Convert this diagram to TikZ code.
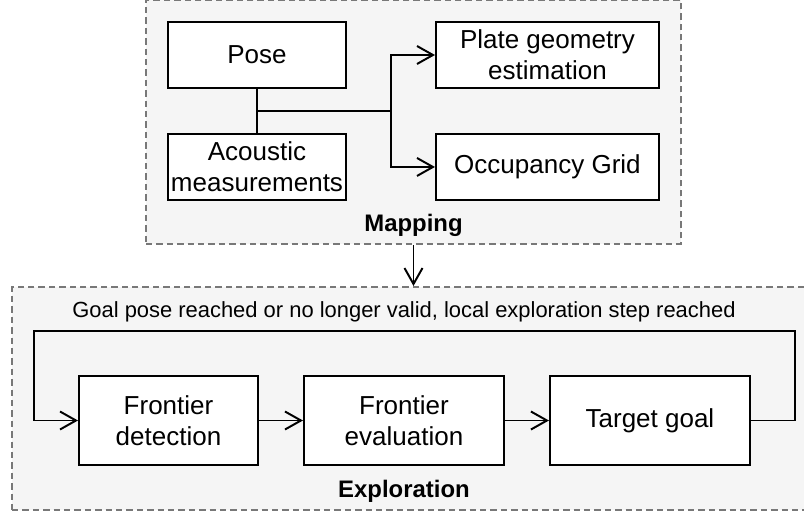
\documentclass[tikz,border=0pt]{standalone}
\usepackage{fontspec}
\setmainfont{Liberation Sans}
\usetikzlibrary{arrows.meta,positioning,fit,calc,backgrounds}
\definecolor{GroupGray}{RGB}{120,120,120}
\definecolor{GroupFill}{RGB}{245,245,245}
\tikzset{
  inputbox/.style={draw=black, fill=white, line width=1.4pt, minimum width=4.45cm,
    minimum height=1.65cm, align=center, inner sep=1pt,
    font=\fontsize{18.5}{22}\selectfont},
  outputbox/.style={inputbox, minimum width=5.575cm},
  stepbox/.style={inputbox, minimum height=2.225cm, minimum width=5cm},
  groupbox/.style={draw=GroupGray, fill=GroupFill, line width=1.4pt,
    dash pattern=on 0.16cm off 0.1cm},
  grouplabel/.style={font=\fontsize{17}{20}\selectfont\bfseries},
  link/.style={line width=1.4pt},
  arrow/.style={link, -{Straight Barb[length=0.4cm, width=0.45cm]}}
}

\begin{document}
\begin{tikzpicture}[node distance=1.1cm]
  \useasboundingbox (0,0) rectangle (20.1,-12.85);

  % mapping inputs and outputs
  \node[inputbox] (pose) at (6.425,-1.375) {Pose};
  \node[inputbox, below=of pose] (acoustic) {Acoustic\\measurements};
  \node[outputbox, right=2.2cm of pose] (plate) {Plate geometry\\estimation};
  \node[outputbox, right=2.2cm of acoustic] (occupancy) {Occupancy Grid};

  % exploration steps
  \node[stepbox, minimum width=4.475cm] (detect) at (4.2125,-10.5125) {Frontier\\detection};
  \node[stepbox, right=of detect] (evaluate) {Frontier\\evaluation};
  \node[stepbox, right=of evaluate] (target) {Target goal};

  % helper points
  \coordinate (junc) at ($(pose.south)!0.5!(acoustic.north)$);
  \coordinate (split) at ($(junc -| plate.west)+(-1.1,0)$);
  \coordinate (mapbase) at ($(acoustic.south)+(0,-0.55)$);
  \coordinate (loopR) at ($(target.east)+(1.1,0)$);
  \coordinate (loopL) at ($(detect.west)+(-1.1,0)$);
  \coordinate (loopT) at ($(detect.north)+(0,1.1)$);
  \coordinate (exptl) at ($(loopL |- loopT)+(-0.55,1.1)$);
  \coordinate (expbr) at ($(loopR |- detect.south)+(0.8,-1.1)$);

  \node[font=\fontsize{15.6}{18}\selectfont] (goal) at ($(loopT -| evaluate)+(0,0.48)$)
    {Goal pose reached or no longer valid, local exploration step reached};

  % dashed groups behind the boxes
  \begin{scope}[on background layer]
    \node[groupbox, fit=(pose)(plate)(occupancy)(mapbase), inner sep=0.525cm] (mapping) {};
    \node[groupbox, fit=(exptl)(expbr), inner sep=0pt] (exploration) {};
  \end{scope}
  \node[grouplabel] (maplabel) at ($(mapping.south)+(0,0.5)$) {Mapping};
  \node[grouplabel] (explabel) at ($(evaluate |- exploration.south)+(0,0.48)$) {Exploration};

  % connectors
  \draw[link] (pose) -- (acoustic);
  \draw[link] (junc) -- (split);
  \draw[arrow] (split) |- (plate.west);
  \draw[arrow] (split) |- (occupancy.west);
  \draw[arrow] (mapping.south) -- (mapping.south |- exploration.north);
  \draw[arrow] (detect) -- (evaluate);
  \draw[arrow] (evaluate) -- (target);
  \draw[arrow] (target.east) -- (loopR) |- (loopT) -| (loopL) -- (detect.west);
\end{tikzpicture}
\end{document}
